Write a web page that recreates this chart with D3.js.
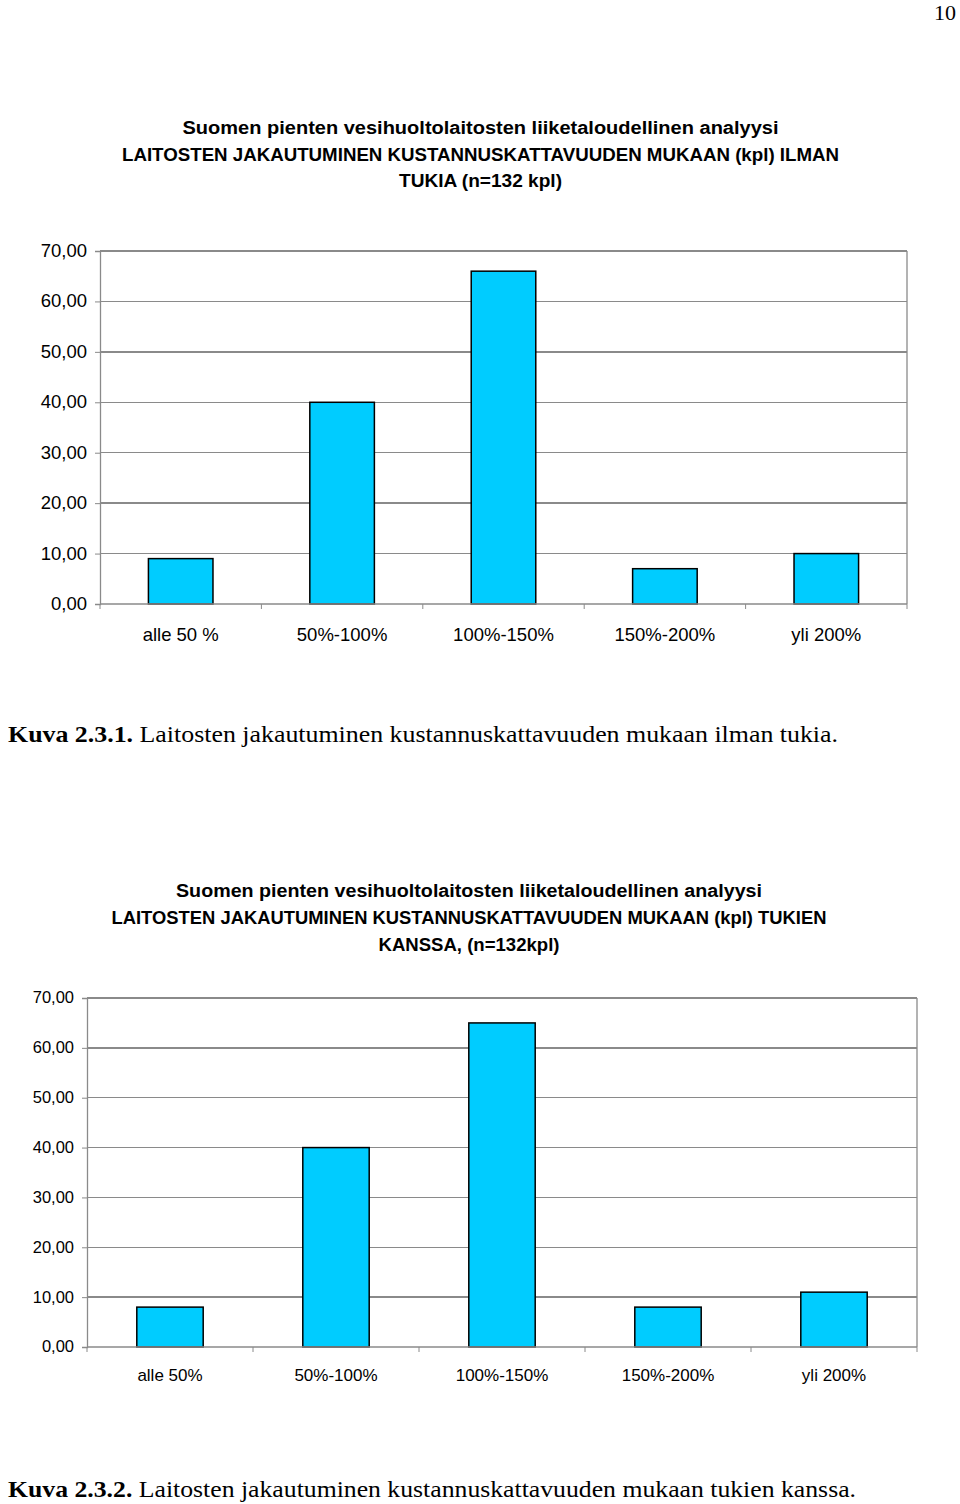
<!DOCTYPE html>
<html><head><meta charset="utf-8">
<script src="https://cdn.jsdelivr.net/npm/d3@7"></script>
<style>body{margin:0;background:#fff}svg{display:block}</style>
</head><body>
<script>
const categories1 = ["alle 50 %", "50%-100%", "100%-150%", "150%-200%", "yli 200%"];
const values1 = [9, 40, 66, 7, 10];
const categories2 = ["alle 50%", "50%-100%", "100%-150%", "150%-200%", "yli 200%"];
const values2 = [8, 40, 65, 8, 11];
const yTicks = [0, 10, 20, 30, 40, 50, 60, 70];
const title1 = ["Suomen pienten vesihuoltolaitosten liiketaloudellinen analyysi",
  "LAITOSTEN JAKAUTUMINEN KUSTANNUSKATTAVUUDEN MUKAAN (kpl) ILMAN",
  "TUKIA (n=132 kpl)"];
const title2 = ["Suomen pienten vesihuoltolaitosten liiketaloudellinen analyysi",
  "LAITOSTEN JAKAUTUMINEN KUSTANNUSKATTAVUUDEN MUKAAN (kpl) TUKIEN",
  "KANSSA, (n=132kpl)"];
const caption1 = ["Kuva 2.3.1.", " Laitosten jakautuminen kustannuskattavuuden mukaan ilman tukia."];
const caption2 = ["Kuva 2.3.2.", " Laitosten jakautuminen kustannuskattavuuden mukaan tukien kanssa."];

const svg = d3.select("body").append("svg").attr("width", 960).attr("height", 1504);

svg.append("text").attr("x", 956).attr("y", 20).attr("text-anchor", "end")
  .attr("font-family", "Liberation Serif, Times New Roman, serif").attr("font-size", 22).text("10");

function drawChart(cfg) {
  const {cats, vals, left, right, top, bottom, titles, titleYs, titleWidths, labelY, tickFs, catFs} = cfg;
  const x = d3.scaleBand().domain(cats).range([left, right]).paddingInner(0).paddingOuter(0);
  const y = d3.scaleLinear().domain([0, 70]).range([bottom, top]);
  const g = svg.append("g");
  titles.forEach((t, i) => {
    g.append("text").attr("x", (left + right) / 2 + cfg.titleShift).attr("y", titleYs[i]).attr("dy", "0.35em")
      .attr("text-anchor", "middle").attr("font-family", "Liberation Sans, Arial, sans-serif")
      .attr("font-weight", "bold").attr("font-size", 18)
      .attr("textLength", titleWidths[i]).attr("lengthAdjust", "spacingAndGlyphs")
      .text(t);
  });
  g.append("g").selectAll("line").data(yTicks.filter(d => d > 0)).join("line")
    .attr("x1", left).attr("x2", right).attr("y1", d => y(d)).attr("y2", d => y(d))
    .attr("stroke", "#8a8a8a").attr("stroke-width", 1.3).attr("shape-rendering", "crispEdges");
  g.append("line").attr("x1", right).attr("x2", right).attr("y1", top).attr("y2", bottom)
    .attr("stroke", "#8a8a8a").attr("stroke-width", 1.3);
  const ya = g.append("g").attr("transform", `translate(${left},0)`)
    .call(d3.axisLeft(y).tickValues(yTicks).tickSize(5).tickPadding(8)
      .tickFormat(d => d3.format(".2f")(d).replace(".", ",")));
  ya.select(".domain").attr("stroke", "#8a8a8a").attr("stroke-width", 1.3);
  ya.selectAll(".tick line").attr("stroke", "#8a8a8a");
  ya.selectAll("text").attr("font-family", "Liberation Sans, Arial, sans-serif")
    .attr("font-size", tickFs).attr("fill", "#000").attr("dy", "0.3em");
  const bw = x.bandwidth() * 0.4;
  g.append("g").selectAll("rect").data(vals).join("rect")
    .attr("x", (d, i) => x(cats[i]) + x.bandwidth() / 2 - bw / 2)
    .attr("width", bw)
    .attr("y", d => y(d)).attr("height", d => y(0) - y(d))
    .attr("fill", "#00CCFF").attr("stroke", "#000").attr("stroke-width", 1.5);
  const bounds = cats.map(c => x(c)).concat([right]);
  g.append("line").attr("x1", left).attr("x2", right).attr("y1", bottom).attr("y2", bottom)
    .attr("stroke", "#8a8a8a").attr("stroke-width", 1.3);
  g.append("g").selectAll("line").data(bounds).join("line")
    .attr("x1", d => d).attr("x2", d => d).attr("y1", bottom).attr("y2", bottom + 5)
    .attr("stroke", "#8a8a8a").attr("stroke-width", 1);
  g.append("g").selectAll("text").data(cats).join("text")
    .attr("x", d => x(d) + x.bandwidth() / 2).attr("y", labelY).attr("dy", "0.35em")
    .attr("text-anchor", "middle").attr("font-family", "Liberation Sans, Arial, sans-serif")
    .attr("font-size", catFs).text(d => d);
}

function caption(parts, yy, width) {
  const t = svg.append("text").attr("x", 8).attr("y", yy)
    .attr("font-family", "Liberation Serif, Times New Roman, serif").attr("font-size", 23)
    .attr("textLength", width).attr("lengthAdjust", "spacingAndGlyphs");
  t.append("tspan").attr("font-weight", "bold").text(parts[0]);
  t.append("tspan").text(parts[1]);
}

drawChart({cats: categories1, vals: values1, left: 100, right: 907, top: 251, bottom: 604,
  titles: title1, titleYs: [128, 155, 181], titleWidths: [596, 717, 163], titleShift: -23,
  labelY: 635, tickFs: 18.5, catFs: 18.5});
caption(caption1, 742, 830);

drawChart({cats: categories2, vals: values2, left: 87, right: 917, top: 998, bottom: 1347,
  titles: title2, titleYs: [891, 918, 945], titleWidths: [586, 715, 181], titleShift: -33,
  labelY: 1375, tickFs: 16.5, catFs: 17});
caption(caption2, 1497, 848);
</script>
</body></html>
